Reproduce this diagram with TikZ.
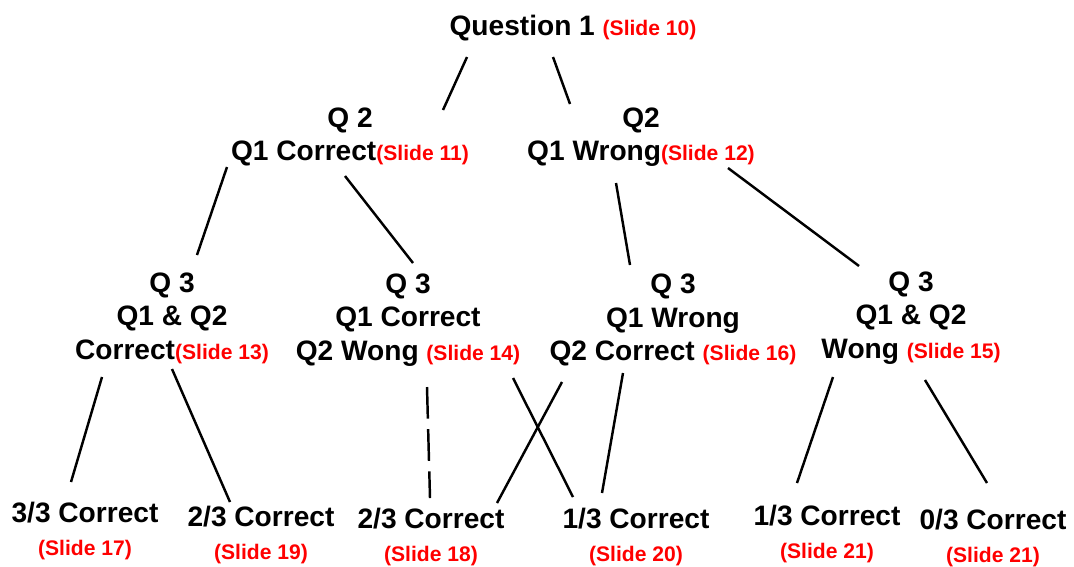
\documentclass[tikz,border=0pt]{standalone}
\usepackage{fontspec}
\setmainfont{Liberation Sans}
\usetikzlibrary{calc}
\newcommand{\slide}[1]{{\fontsize{12}{14}\selectfont\color{red}(Slide #1)}}
\begin{document}
\begin{tikzpicture}[
  x=0.02cm, y=-0.02cm,
  every node/.style={align=center, inner sep=0pt, font=\fontsize{16}{19}\selectfont\bfseries},
  branch/.style={draw, line width=1.4pt},
  cut/.style={branch, dash pattern=on 18pt off 6pt}
]
\useasboundingbox (0,0) rectangle (1074,566);
\node (q1) at (573,28) {Question 1 \slide{10}};
\node (q2c) at (350,137) {Q 2\\Q1 Correct\slide{11}};
\node (q2w) at (641,137) {Q2\\Q1 Wrong\slide{12}};
\node (q3cc) at (172,318) {Q 3\\Q1 \& Q2\\Correct\slide{13}};
\node (q3cw) at (408,320) {Q 3\\Q1 Correct\\Q2 Wong \slide{14}};
\node (q3wc) at (673,320) {Q 3\\Q1 Wrong\\Q2 Correct \slide{16}};
\node (q3ww) at (911,318) {Q 3\\Q1 \& Q2\\Wong \slide{15}};
\node (r3) at (85,531) {3/3 Correct\\\slide{17}};
\node (r2a) at (261,535) {2/3 Correct\\\slide{19}};
\node (r2b) at (431,537) {2/3 Correct\\\slide{18}};
\node (r1a) at (636,537) {1/3 Correct\\\slide{20}};
\node (r1b) at (827,534) {1/3 Correct\\\slide{21}};
\node (r0) at (993,538) {0/3 Correct\\\slide{21}};
\draw[branch] ($(q1)+(-106,29)$) -- ($(q2c)+(93,-27)$);
\draw[branch] ($(q1)+(-20,29)$) -- ($(q2w)+(-71,-33)$);
\draw[branch] ($(q2c)+(-123,30)$) -- ($(q3cc)+(25,-63)$);
\draw[branch] ($(q2c)+(-5,39)$) -- ($(q3cw)+(5,-57)$);
\draw[branch] ($(q2w)+(-25,46)$) -- ($(q3wc)+(-43,-55)$);
\draw[branch] ($(q2w)+(87,31)$) -- ($(q3ww)+(-52,-52)$);
\draw[branch] ($(q3cc)+(-70,59)$) -- ($(r3)+(-14,-49)$);
\draw[branch] ($(q3cc)+(0,51)$) -- ($(r2a)+(-31,-33)$);
\draw[cut] ($(q3cw)+(19,67)$) -- ($(r2b)+(-1,-39)$);
\draw[branch] ($(q3cw)+(105,58)$) -- ($(r1a)+(-63,-40)$);
\draw[branch] ($(q3wc)+(-111,62)$) -- ($(r2b)+(66,-34)$);
\draw[branch] ($(q3wc)+(-50,53)$) -- ($(r1a)+(-34,-44)$);
\draw[branch] ($(q3ww)+(-78,59)$) -- ($(r1b)+(-30,-51)$);
\draw[branch] ($(q3ww)+(14,62)$) -- ($(r0)+(-6,-55)$);
\end{tikzpicture}
\end{document}
